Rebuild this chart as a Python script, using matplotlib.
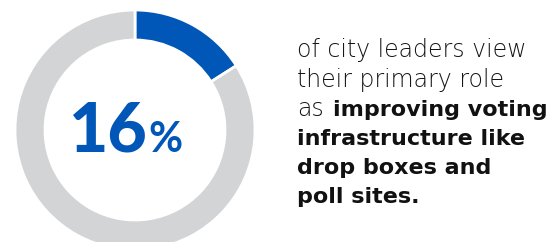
import matplotlib
matplotlib.use("Agg")
import matplotlib.pyplot as plt

shares = [16, 84]
colors = ["#0057b8", "#d3d4d6"]
big_value = "16"
lines_regular = ["of city leaders view", "their primary role", "as"]
lines_bold = ["improving voting", "infrastructure like", "drop boxes and", "poll sites."]

W, H = 553, 242
fig = plt.figure(figsize=(W / 100, H / 100), dpi=100)
plt.rcParams["font.family"] = ["Lato", "DejaVu Sans"]

# donut: centre (135, 130) px from top-left, outer radius 120 px
cx, cy, r = 135, 130, 120
ax = fig.add_axes([(cx - r) / W, (H - cy - r) / H, 2 * r / W, 2 * r / H])
ax.pie(shares, colors=colors, startangle=90, counterclock=False, radius=1,
       wedgeprops=dict(width=30 / 120, edgecolor="white", linewidth=2))
ax.set_xlim(-1, 1)
ax.set_ylim(-1, 1)
ax.set_aspect("equal")
ax.axis("off")

def fx(x):
    return x / W

def fy(y):
    return (H - y) / H

blue = colors[0]
fig.text(fx(148), fy(152), big_value, color=blue, fontsize=49, fontweight="black",
         ha="right", va="baseline")
fig.text(fx(148), fy(152), "%", color=blue, fontsize=30, fontweight="bold",
         ha="left", va="baseline")

x0 = 297
base = [57.5, 86.5, 115.5, 145, 174, 203]
txt_kw = dict(fontsize=16, color="#111111", va="baseline", ha="left",
              family="DejaVu Sans")
reg_kw = dict(txt_kw, fontsize=17, color="#151515", fontweight="light")
fig.text(fx(x0), fy(base[0]), lines_regular[0], **reg_kw)
fig.text(fx(x0), fy(base[1]), lines_regular[1], **reg_kw)
fig.text(fx(x0), fy(base[2]), lines_regular[2], **reg_kw)
fig.text(fx(333), fy(base[2]), lines_bold[0], fontweight="bold", **txt_kw)
for i, s in enumerate(lines_bold[1:]):
    fig.text(fx(x0), fy(base[3 + i]), s, fontweight="bold", **txt_kw)

fig.savefig("out.png", dpi=100)
